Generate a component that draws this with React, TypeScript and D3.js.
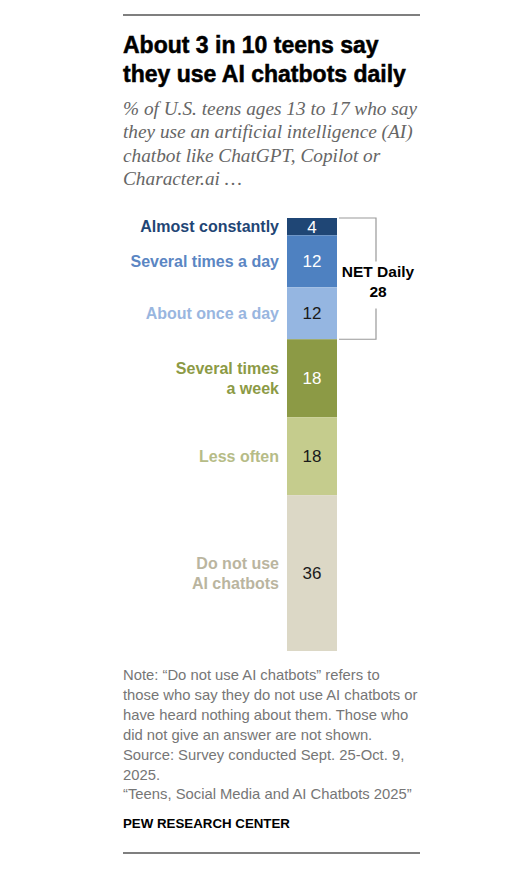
import * as d3 from "d3"

const categories = [
  "Almost constantly",
  "Several times a day",
  "About once a day",
  "Several times a week",
  "Less often",
  "Do not use AI chatbots",
]
const values = [4, 12, 12, 18, 18, 36]
const labelLines = [
  ["Almost constantly"],
  ["Several times a day"],
  ["About once a day"],
  ["Several times", "a week"],
  ["Less often"],
  ["Do not use", "AI chatbots"],
]
const fills = ["#1f4675", "#4e81c1", "#95b6e1", "#8c9a45", "#c5cc8d", "#dcd8c6"]
const labelColors = ["#1f4675", "#5b86c3", "#99b6df", "#8c9a45", "#b6bc87", "#bab59f"]
const valueColors = ["#ffffff", "#ffffff", "#1a1a1a", "#ffffff", "#1a1a1a", "#1a1a1a"]
const netLabel = ["NET Daily", "28"]
const netCount = 3

const titleLines = ["About 3 in 10 teens say", "they use AI chatbots daily"]
const subtitleLines = [
  "% of U.S. teens ages 13 to 17 who say",
  "they use an artificial intelligence (AI)",
  "chatbot like ChatGPT, Copilot or",
  "Character.ai \u2026",
]
const noteLines = [
  "Note: \u201cDo not use AI chatbots\u201d refers to",
  "those who say they do not use AI chatbots or",
  "have heard nothing about them. Those who",
  "did not give an answer are not shown.",
  "Source: Survey conducted Sept. 25-Oct. 9,",
  "2025.",
  "\u201cTeens, Social Media and AI Chatbots 2025\u201d",
]

const W = 519
const H = 869
const left = 123
const right = 420
const sans = "'Liberation Sans', Arial, sans-serif"

export default function App() {
  const y = d3.scaleLinear().domain([0, 100]).range([218, 651])
  const barX = 287
  const barW = 50
  const ends = d3.cumsum(values)
  const segs = values.map((v, i) => ({ v, y0: ends[i] - v, y1: ends[i], i }))
  const netEnd = ends[netCount - 1]
  const bx0 = barX + barW + 2
  const bx1 = 376
  const netMid = (y(0) + y(netEnd)) / 2

  return (
    <div style={{ position: "absolute", left: 0, top: 0 }}>
      <svg width={W} height={H} style={{ display: "block", background: "#fff" }}>
        <line x1={left} x2={right} y1={15} y2={15} stroke="#000" strokeWidth={1.2} />
        {titleLines.map((t, i) => (
          <text
            key={t}
            x={left}
            y={53 + i * 28.5}
            fontFamily={sans}
            fontWeight="bold"
            fontSize={23}
            fill="#000"
            stroke="#000"
            strokeWidth={0.5}
          >
            {t}
          </text>
        ))}
        {subtitleLines.map((t, i) => (
          <text
            key={t}
            x={left}
            y={115 + i * 23.3}
            fontFamily="'Liberation Serif', Georgia, serif"
            fontStyle="italic"
            fontSize={19.3}
            fill="#666"
          >
            {t}
          </text>
        ))}

        {segs.map((s) => (
          <rect key={categories[s.i]} x={barX} y={y(s.y0)} width={barW} height={y(s.y1) - y(s.y0)} fill={fills[s.i]} />
        ))}
        {segs.map((s) => {
          const mid = (y(s.y0) + y(s.y1)) / 2
          return (
            <text
              key={"v" + s.i}
              x={barX + barW / 2}
              y={mid}
              dy="0.36em"
              textAnchor="middle"
              fontFamily={sans}
              fontSize={17}
              fill={valueColors[s.i]}
            >
              {s.v}
            </text>
          )
        })}
        {segs.map((s) => {
          const mid = (y(s.y0) + y(s.y1)) / 2
          const lines = labelLines[s.i]
          const off = ((lines.length - 1) * 20) / 2
          return (
            <text
              key={"l" + s.i}
              textAnchor="end"
              fontFamily={sans}
              fontWeight="bold"
              fontSize={16}
              fill={labelColors[s.i]}
            >
              {lines.map((l, j) => (
                <tspan key={l} x={279} y={mid - off + j * 20} dy="0.36em">
                  {l}
                </tspan>
              ))}
            </text>
          )
        })}

        <path
          d={`M${bx0},${y(0)}H${bx1}V${netMid - 17}M${bx1},${netMid + 30}V${y(netEnd)}H${bx0}`}
          fill="none"
          stroke="#999"
          strokeWidth={1.2}
        />
        {netLabel.map((t, i) => (
          <text
            key={t}
            x={378}
            y={277 + i * 20}
            textAnchor="middle"
            fontFamily={sans}
            fontWeight="bold"
            fontSize={15.5}
            fill="#000"
          >
            {t}
          </text>
        ))}

        {noteLines.map((t, i) => (
          <text key={t} x={left} y={680 + i * 19.9} fontFamily={sans} fontSize={14.8} fill="#767676">
            {t}
          </text>
        ))}
        <text x={left} y={828} fontFamily={sans} fontWeight="bold" fontSize={13.3} fill="#000">
          PEW RESEARCH CENTER
        </text>
        <line x1={left} x2={right} y1={853} y2={853} stroke="#000" strokeWidth={1.2} />
      </svg>
    </div>
  )
}
